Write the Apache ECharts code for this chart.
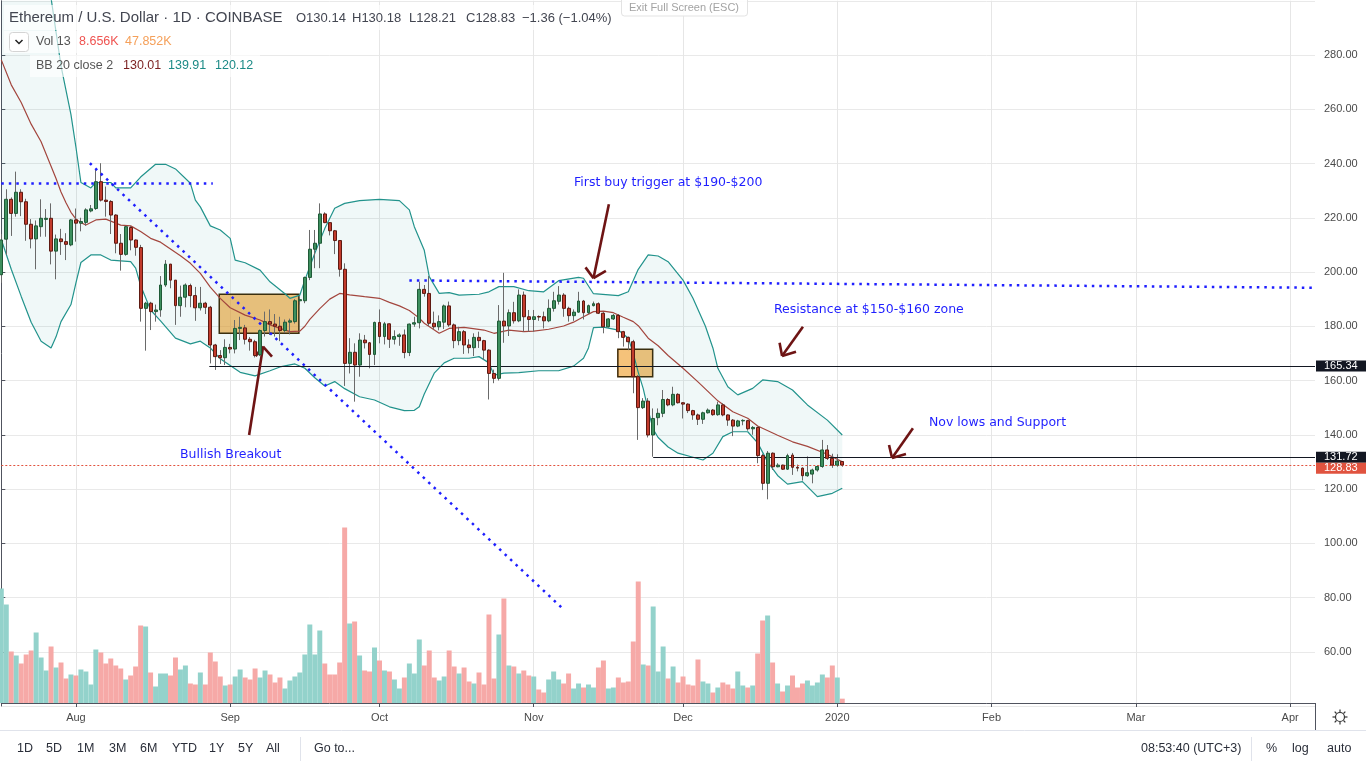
<!DOCTYPE html>
<html><head><meta charset="utf-8">
<script src="https://cdn.jsdelivr.net/npm/echarts@6/dist/echarts.min.js"></script>
<style>html,body{margin:0;padding:0;background:#fff}#c{width:1366px;height:768px}</style>
</head><body><div id="c"></div><script>
// ---------- data ----------
const startDate = '2019-07-17';
const numDays = 265; // category slots through early April 2020
const opens = [199,212.1,226.8,221.6,229.4,225.9,217.6,212.2,216.7,219.4,
219.8,207.7,212.2,211.2,210,219.2,218,218.3,222.5,223.4,
233.3,226.5,226,221,210.6,206.5,216.4,211.8,209,186.6,
188.5,185.4,186,195.2,202.9,197,187.6,190.7,195,191.3,
186.8,188.5,187,173.1,169.2,168.4,172.2,171.6,179.2,179.4,
175.2,174.3,169.5,178.4,181.7,180.8,180,178.4,181.5,181.7,
189.4,189.4,198,208.4,210.6,221.4,218.2,215.2,211.6,201,
166.3,170.4,165.7,174.9,173.9,169.6,181.4,176.2,180.9,175.2,
176.2,176.8,170.3,180.8,181.3,193.6,192.1,181.1,179.8,181.5,
187.5,180.5,174.7,178,173.1,172.1,175.9,174.7,171.2,162.6,
160.8,181.9,180.1,185,182,191.5,183.5,182.5,183.6,183.5,
182,186.6,189.2,191.5,186.6,183.9,185.2,189.3,185,187.6,
188.3,184.8,179.8,182.7,184,178,175.9,174.3,161.4,150,
152.4,139.9,146.3,147.9,153,151,154.9,151.8,151.3,148.9,
147.3,145.7,148.1,149.1,147.4,151,147.3,145.4,143.2,145.1,
145.2,142.2,142.7,132.3,122.1,133.2,128.2,128.8,127.3,132.5,
128,127.7,124.9,125.5,127,128.3,134.4,131.3,128.8,130.14];
const closes = [211.8,226.8,221.6,229.4,225.9,217.6,212.2,217,219.8,219.8,
207.7,212.2,211.2,210.2,219.2,218,218.6,222.9,223.3,233.3,
226.5,226,221,210.6,206.5,216.7,211.8,209.1,186.6,188.5,
185.4,186,195.2,202.9,197,187.6,190.7,195.2,191.3,186.8,
188.5,187,173.1,168.8,168.4,172.2,171.6,179.2,179.6,175.2,
174.3,169.2,178.4,181.7,180.8,180,178.4,181.5,182,189.4,
189.8,198,208.4,210.6,221.4,218.2,215.2,211.6,201,166.3,
170.4,165.7,174.9,173.9,169.6,181.4,176.2,180.9,175.2,176.2,
176.8,170.3,180.8,181.3,193.6,192.1,181.1,179.8,181.7,187.5,
180.5,174.7,178,173.1,172.1,175.9,174.7,171.2,162.6,160.8,
181.9,180.1,185,182,191.5,183.5,182.5,183.5,183.4,182,
186.6,189.4,191.5,186.6,183.9,185.2,189.3,185,187.6,188.3,
184.8,179.8,182.7,184,178,175.9,174.3,161.4,150,152.4,
139.9,146,147.9,153,151,154.9,151.8,151.3,148.9,147.3,
145.7,148.1,149.1,147.4,151,147.3,145.4,143.2,145.1,145.3,
142.2,142.7,132.3,122.1,133.2,128.2,128.8,127.3,132.3,128,
127.7,124.9,126,127,128.3,134.4,131.3,128.8,130.3,128.83];
const highs = [214,230.5,227.5,237,230.5,227,219.5,219,226.8,223.2,
225.3,213.8,215.9,214.3,219.5,223.4,220,223.5,224.7,237.6,
240.1,231.5,226.5,221.3,214,217,217,212,210,189,
189,188,198.5,204.4,203,197,195,195.8,195.7,194.5,
194.5,189,187.5,173.5,171.2,175.2,173.5,182.3,183.5,180.5,
176,175,178.8,185.4,186.2,184.5,183.5,182.5,182.8,190,
190.5,198.3,215.5,215.5,225.3,222,218.2,215.5,211.8,203.2,
175.6,173.7,177.4,176.8,174.2,181.7,186.2,181.6,181,178.5,
177.4,178.8,181,183.5,196.4,195.2,198.5,185.4,184,188,
189.1,181,179.8,178.6,175.2,177.4,178,175,171.5,164,
187.8,199.7,186.2,189,193.6,192.8,186,186,184,185.4,
189.9,192.7,194.8,192.2,187.2,186.2,192.7,189.7,188,189.1,
188.8,185.2,183,184.5,184.5,178.3,176.2,175,162,153.5,
153.5,149.7,149.7,156.5,153.5,157.7,155.3,152,151.6,149.2,
147.8,148.5,149.7,149.5,152.2,151.6,147.5,145.8,145.5,145.7,
145.5,143.2,143,133,134,133.5,129.5,129,133,133.3,
129,128,132,127.5,128.8,138.1,136.2,133,132.8,130.18];
const lows = [196,206.3,213.3,220.4,220.6,211.5,208.7,201,213,213,
202.8,197.3,206.3,204.4,209.5,211.2,215,217,222,222.9,
226,220.4,214,206.9,200.5,206,208,206,181.7,171,
178.6,181.7,183.5,194.5,194,180.5,183.5,187,187,182,
185.8,184.5,166.3,163.9,166.1,165.7,170,170,174.9,173.3,
171,168.5,169,176.2,176.8,176.2,174.5,177.5,177,181,
188,188.5,197,201.4,201.4,218,213.5,206.6,198.3,158,
162.6,152.2,161.4,171.8,164.5,165.7,173.7,173.3,172,173.3,
172.8,168.2,169,179.8,179.2,190.9,180.1,178.8,178.5,179,
179.8,171.9,173,169.8,170,169,172,167.6,153,159,
160,173.9,176.4,181,181.5,178,178,178,182,179.2,
181.5,185.4,188,183.5,181.7,182,185,182.5,184.5,187.3,
184.5,177.4,179.5,182.3,175.6,172.5,171.2,155.3,138.1,149.5,
139,131.9,143.5,146.5,150.5,150.5,151.5,146,148,145.5,
143.6,144,147.8,147,147,146.8,143.3,139.5,142.8,143.5,
141.5,140,129.5,119.6,116.2,127,128,127,127,125.2,
126.5,123.1,124.5,122.1,126.4,127.8,130.7,127.8,128.2,128.21];
const volumes = [229,197,103,95,79,97,105,141,91,65,
113,71,81,49,57,55,67,63,37,107,
101,79,89,75,69,47,55,73,155,153,
61,33,59,59,55,91,67,75,39,37,
61,37,101,83,53,35,37,53,67,51,
47,69,51,65,57,41,51,29,45,53,
61,97,157,97,145,79,57,57,81,351,
159,163,95,65,63,111,85,65,63,47,
29,51,79,59,127,75,105,51,45,53,
105,73,59,71,43,39,61,37,177,49,
137,209,75,73,59,65,55,53,27,21,
47,63,47,39,59,29,39,31,37,31,
71,85,29,31,51,41,43,123,243,77,
75,193,63,113,49,73,41,53,37,35,
87,43,39,21,31,41,37,29,63,35,
31,35,99,165,175,81,39,23,35,55,
31,39,45,35,41,57,51,75,51,8.656];
// Bollinger bands: [day index, value]
const bbUpper = [[0,360],[3,350],[6,335],[8,320],[10,301],[12,276],[14,258],[15,246],[16,233],[18,231],[19,233],[22,233],[23,231],[26,231],[28,235],[31,239.7],[33,239.7],[35,238],[38,232.7],[39,226.5],[40,224],[42,217],[44,215.5],[46,212.4],[47,204.4],[49,203.4],[52,200.7],[54,196.4],[57,192],[58,190.3],[60,191.5],[61,197],[63,206.9],[65,216],[67,223.5],[69,225.3],[72,226.3],[76,226.8],[80,226.3],[82,222.9],[83,216.7],[85,208],[86,198.3],[88,192.1],[90,192.4],[92,191.5],[96,191.8],[98,192.7],[100,194.6],[103,194.6],[106,193.1],[109,192.7],[112,196.8],[116,198],[117,197.7],[119,192],[124,191.3],[126,192.7],[128,201],[130,206.3],[132,205.9],[134,203.8],[137,197],[139,190.3],[141.5,180],[143,172],[144,164.5],[146,157.7],[148,154.7],[151,157.1],[153,160.2],[156,159.6],[159,156.5],[162,151],[166,145.4],[169,139.9]];
const bbBasis = [[0,278.2],[2,269],[4,262.5],[6,254.5],[8,248],[10,239],[11,234.5],[12,229.5],[13,225.5],[14,222],[15,219.5],[16,218.2],[17,217.3],[19,219.2],[21,219.5],[23,218],[24,217.3],[26,217],[28,214.9],[30,212.4],[32,211],[34,208.5],[36,206],[38,203.2],[40,199.5],[42,194.4],[44,190.3],[46,186.8],[49,184.1],[52,182.3],[54,180.5],[56,179.2],[58,178],[60,178.2],[61,180],[62,182.5],[64,186.5],[66,190],[68,192.1],[70,191.6],[73,190.9],[76,190.3],[78,188.8],[80,187.5],[82,185.8],[84,183],[85,181.1],[88,177.4],[90,179.2],[93,179.6],[97,178.6],[99,177.4],[102,178.6],[105,178],[107,178.2],[110,178.9],[113,180.1],[115,181.5],[117,183.5],[119,185.4],[121,185.6],[123,185],[125,183.3],[127,181.7],[128,180.2],[130,175.6],[132,172.8],[134,169.2],[137,164.5],[140,159.5],[144,152.5],[147,148.5],[150,146.1],[152,143.2],[156,139.8],[159,137.4],[162,135.7],[166,132.8],[169,130]];
const bbLower = [[0,212],[2,201],[4,191],[6,181.5],[8,174.5],[10,172],[11,176.1],[12,181.7],[14,188],[15,196],[16,203.5],[18,206.3],[20,206.3],[22,204.4],[26,203.8],[27,201.4],[28,195],[30,186],[32,182],[35,175.6],[38,173.5],[40,174.5],[42,172],[44,168],[46,165.5],[48,163],[51,161.7],[54,163.6],[56,165],[59,166.1],[61,164.5],[63,161],[65,158],[67,159.6],[69,157],[72,154],[75,152.8],[78,150.3],[81,148.9],[83,149],[84,150.3],[85,155],[87,162.7],[89,166.5],[91,168.2],[94,168.2],[96,168.8],[98,166.5],[99,162],[101,162.7],[104,162.9],[108,163.6],[112,163.6],[115,165.3],[117,168.2],[118,172],[119,179.5],[121,179.7],[124,178.6],[126,175.6],[127,170],[128,163],[129,157],[130,149.1],[131,142],[132,139],[134,135.5],[136,133.2],[139,131.7],[141,130.7],[143,133.2],[145,139.3],[147,141.1],[150,141.1],[152,137],[154,130],[156,125],[158,121.8],[161,122.7],[164,117.2],[167,118.4],[169,120.3]];
// drawings (day index, price)
const levelLines = [{from:41.8, value:165.34}, {from:131, value:131.72}];
const lastPrice = 128.83;
const blueDotLines = [[[0,232.9],[42.5,232.9]], [[17.8,240.1],[112.7,76.1]], [[82,196.9],[264,194.2]]];
const boxes = [[[43.8,191.8],[59.8,177.4]], [[123.9,171.5],[130.9,161.4]]];
const arrows = [ // tail, tip, wing1, wing2
  [[49.8,139.9],[52.6,172.5],[51.1,169],[54.4,168.8]],
  [[122.1,225],[119,197.7],[117.4,201.7],[121.5,200.4]],
  [[161.1,179.8],[156.9,169],[156.4,173.9],[159.7,170.6]],
  [[183.2,142.4],[179,131.4],[178.4,136.2],[181.8,132.9]]
];
const priceAxis = {min:40, max:300, step:20};
const monthNames = ['Jan','Feb','Mar','Apr','May','Jun','Jul','Aug','Sep','Oct','Nov','Dec'];

// ---------- build ----------
const cats = [];
const d0 = Date.parse(startDate + 'T00:00:00Z');
for (let i = 0; i < numDays; i++) cats.push(new Date(d0 + i * 86400000).toISOString().slice(0, 10));
const isMonthStart = (i, v) => v.slice(8, 10) === '01';
const wickData = opens.map((o, i) => [o, closes[i], lows[i], highs[i]]);
const bodyData = opens.map((o, i) => [o, closes[i], Math.min(o, closes[i]), Math.max(o, closes[i])]);
const UP = '#93d2cb', DN = '#f6a9a7';
const volData = volumes.map((v, i) => ({value: v, itemStyle: {color: closes[i] >= opens[i] ? UP : DN}}));

const FONT = 'Liberation Sans, Arial, sans-serif';
const DFONT = 'DejaVu Sans, Verdana, sans-serif';
const BLUE = '#1f1fff', ARROW = '#6e1414';
const markData = [];
blueDotLines.forEach(l => markData.push([{coord: l[0], lineStyle: {color: BLUE, width: 2.5, type: [2.5, 5]}}, {coord: l[1]}]));
levelLines.forEach(l => markData.push([{coord: [l.from, l.value], lineStyle: {color: '#131722', width: 1.2, type: 'solid'}}, {coord: [numDays - 1, l.value]}]));
markData.push([{coord: [0, lastPrice], lineStyle: {color: '#e2533f', width: 1, type: [2, 2]}}, {coord: [numDays - 1, lastPrice]}]);
arrows.forEach(a => {
  const st = {color: ARROW, width: 2.6, type: 'solid'};
  markData.push([{coord: a[0], lineStyle: st}, {coord: a[1]}]);
  markData.push([{coord: a[1], lineStyle: st}, {coord: a[2]}]);
  markData.push([{coord: a[1], lineStyle: st}, {coord: a[3]}]);
});

const chart = echarts.init(document.getElementById('c'), null, {renderer: 'canvas'});
const option = {
  animation: false,
  backgroundColor: '#fff',
  textStyle: {fontFamily: FONT},
  grid: [
    {left: 1.3, right: 51, top: 0.75, bottom: 62, outerBoundsMode: 'none', containLabel: false},
    {left: 1.3, right: 51, bottom: 65, height: 250, outerBoundsMode: 'none', containLabel: false}
  ],
  xAxis: [
    {type: 'category', gridIndex: 0, data: cats, boundaryGap: false,
     axisLine: {show: false}, axisTick: {show: false}, axisLabel: {show: false},
     splitLine: {show: true, interval: isMonthStart, lineStyle: {color: '#e6e6e6', width: 1}}},
    {type: 'value', gridIndex: 0, min: 0, max: numDays - 1, show: false, splitLine: {show: false}},
    {type: 'category', gridIndex: 1, data: cats, boundaryGap: false,
     axisLine: {show: true, lineStyle: {color: '#50535e', width: 1}},
     axisTick: {show: true, interval: isMonthStart, length: 4, lineStyle: {color: '#50535e'}},
     axisLabel: {interval: isMonthStart, color: '#4a4a4a', fontSize: 11, margin: 9, fontFamily: FONT,
       formatter: v => { const m = +v.slice(5, 7); return m === 1 ? v.slice(0, 4) : monthNames[m - 1]; }},
     splitLine: {show: false}}
  ],
  yAxis: [
    {type: 'value', gridIndex: 0, position: 'right', min: priceAxis.min, max: priceAxis.max, interval: priceAxis.step,
     axisLine: {show: true, lineStyle: {color: '#50535e'}},
     axisTick: {show: true, length: 4, lineStyle: {color: '#50535e'}},
     axisLabel: {color: '#4a4a4a', fontSize: 11, margin: 9, fontFamily: FONT, showMinLabel: false, showMaxLabel: false,
       formatter: v => v.toFixed(2)},
     splitLine: {show: true, lineStyle: {color: '#e9e9e9'}}},
    {type: 'value', gridIndex: 1, min: 0, max: 500, show: false, splitLine: {show: false}}
  ],
  series: [
    {type: 'custom', name: 'bbfill', xAxisIndex: 1, yAxisIndex: 0, z: 1, silent: true, data: [[0, 150]],
     renderItem: (params, api) => {
       const pts = [];
       bbUpper.forEach(p => pts.push(api.coord(p)));
       for (let i = bbLower.length - 1; i >= 0; i--) pts.push(api.coord(bbLower[i]));
       const cs = params.coordSys;
       return {type: 'polygon', shape: {points: pts}, style: {fill: 'rgba(33,150,150,0.065)'},
         clipPath: {type: 'rect', shape: {x: cs.x, y: cs.y, width: cs.width, height: cs.height}}};
     }},
    {type: 'bar', name: 'vol', xAxisIndex: 2, yAxisIndex: 1, data: volData, barCategoryGap: '0%', z: 2, silent: true},
    {type: 'line', name: 'upper', xAxisIndex: 1, yAxisIndex: 0, data: bbUpper, showSymbol: false, z: 3, silent: true,
     lineStyle: {color: '#22938c', width: 1.2}},
    {type: 'line', name: 'lower', xAxisIndex: 1, yAxisIndex: 0, data: bbLower, showSymbol: false, z: 3, silent: true,
     lineStyle: {color: '#22938c', width: 1.2}},
    {type: 'line', name: 'basis', xAxisIndex: 1, yAxisIndex: 0, data: bbBasis, showSymbol: false, z: 3, silent: true,
     lineStyle: {color: '#a3463e', width: 1.2}},
    {type: 'candlestick', name: 'wicks', xAxisIndex: 0, yAxisIndex: 0, data: wickData, barWidth: 1, z: 4, silent: true,
     itemStyle: {color: '#6a6a6a', color0: '#6a6a6a', borderColor: '#6a6a6a', borderColor0: '#6a6a6a', borderWidth: 1}},
    {type: 'candlestick', name: 'bodies', xAxisIndex: 0, yAxisIndex: 0, data: bodyData, barWidth: 3.4, z: 5, silent: true,
     itemStyle: {color: '#3d8f5e', color0: '#c23b2c', borderColor: '#1f5a37', borderColor0: '#5e1a12', borderWidth: 1}},
    {type: 'line', name: 'drawings', xAxisIndex: 1, yAxisIndex: 0, data: [], z: 6, silent: true,
     markArea: {silent: true, itemStyle: {color: 'rgba(238,153,33,0.6)', borderColor: '#3d2806', borderWidth: 1.5},
       data: boxes.map(b => [{coord: b[0]}, {coord: b[1]}])},
     markLine: {silent: true, symbol: ['none', 'none'], label: {show: false}, animation: false, data: markData}}
  ]
};
chart.setOption(option);

// ---------- text / chrome ----------
const T = (x, y, text, color, size, font) => ({type: 'text', x: x, y: y, silent: true, z: 100,
  style: {text: text, fill: color, font: (size || 13) + 'px ' + (font || FONT), textVerticalAlign: 'middle', textAlign: 'left'}});
const gfx = [];
// legend backgrounds
gfx.push({type: 'rect', shape: {x: 4, y: 5, width: 576, height: 25}, style: {fill: 'rgba(255,255,255,0.65)'}, silent: true, z: 99});
gfx.push({type: 'rect', shape: {x: 4, y: 31, width: 180, height: 22}, style: {fill: 'rgba(255,255,255,0.65)'}, silent: true, z: 99});
gfx.push({type: 'rect', shape: {x: 30, y: 55, width: 230, height: 22}, style: {fill: 'rgba(255,255,255,0.65)'}, silent: true, z: 99});
gfx.push(T(9, 18, 'Ethereum / U.S. Dollar \u00b7 1D \u00b7 COINBASE', '#434651', 15));
gfx.push(T(296, 18, 'O130.14', '#434651', 13));
gfx.push(T(352, 18, 'H130.18', '#434651', 13));
gfx.push(T(409, 18, 'L128.21', '#434651', 13));
gfx.push(T(466, 18, 'C128.83', '#434651', 13));
gfx.push(T(522, 18, '\u22121.36 (\u22121.04%)', '#434651', 13));
gfx.push({type: 'rect', shape: {x: 9.5, y: 32.5, width: 19, height: 19, r: 3}, style: {fill: '#fff', stroke: '#d4d4d4', lineWidth: 1}, z: 100, silent: true});
gfx.push({type: 'polyline', shape: {points: [[15.5, 40], [19, 43.5], [22.5, 40]]}, style: {stroke: '#222', lineWidth: 1.5, fill: null}, z: 101, silent: true});
gfx.push(T(36, 42, 'Vol 13', '#555', 12.5));
gfx.push(T(79, 42, '8.656K', '#ef5350', 12.5));
gfx.push(T(125, 42, '47.852K', '#f5a05a', 12.5));
gfx.push(T(36, 66, 'BB 20 close 2', '#555', 12.5));
gfx.push(T(123, 66, '130.01', '#7a1f1f', 12.5));
gfx.push(T(168, 66, '139.91', '#1b8a86', 12.5));
gfx.push(T(215, 66, '120.12', '#1b8a86', 12.5));
// exit full screen
gfx.push({type: 'rect', shape: {x: 621.5, y: -4, width: 126, height: 20, r: 3}, style: {fill: 'rgba(255,255,255,0.9)', stroke: '#e3e3e3', lineWidth: 1}, z: 100, silent: true});
gfx.push(T(629, 8, 'Exit Full Screen (ESC)', '#a3a3a3', 11));
// annotations
gfx.push(T(574, 183, 'First buy trigger at $190-$200', BLUE, 12.5, DFONT));
gfx.push(T(774, 310, 'Resistance at $150-$160 zone', BLUE, 12.5, DFONT));
gfx.push(T(929, 423, 'Nov lows and Support', BLUE, 12.5, DFONT));
gfx.push(T(180, 455, 'Bullish Breakout', BLUE, 12.5, DFONT));
// bottom chrome
gfx.push({type: 'line', shape: {x1: 1315.5, y1: 703, x2: 1315.5, y2: 730}, style: {stroke: '#50535e', lineWidth: 1}, z: 100, silent: true});
gfx.push({type: 'line', shape: {x1: 0, y1: 730.5, x2: 1366, y2: 730.5}, style: {stroke: '#e0e3eb', lineWidth: 1}, z: 100, silent: true});
gfx.push({type: 'circle', shape: {cx: 1340, cy: 717, r: 4.5}, style: {fill: 'none', stroke: '#333', lineWidth: 1.2}, z: 100, silent: true});
for (let k = 0; k < 8; k++) {
  const a = k * Math.PI / 4;
  gfx.push({type: 'line', shape: {x1: 1340 + 5 * Math.cos(a), y1: 717 + 5 * Math.sin(a), x2: 1340 + 7.5 * Math.cos(a), y2: 717 + 7.5 * Math.sin(a)}, style: {stroke: '#333', lineWidth: 1.2}, z: 100, silent: true});
}
const tb = [['1D', 17], ['5D', 46], ['1M', 77], ['3M', 109], ['6M', 140], ['YTD', 172], ['1Y', 209], ['5Y', 238], ['All', 266], ['Go to...', 314],
  ['08:53:40 (UTC+3)', 1141], ['%', 1266], ['log', 1292], ['auto', 1327]];
tb.forEach(t => gfx.push(T(t[1], 749, t[0], '#2a2e39', 12.5)));
gfx.push({type: 'line', shape: {x1: 300.5, y1: 737, x2: 300.5, y2: 761}, style: {stroke: '#e0e3eb', lineWidth: 1}, z: 100, silent: true});
gfx.push({type: 'line', shape: {x1: 1251.5, y1: 737, x2: 1251.5, y2: 761}, style: {stroke: '#e0e3eb', lineWidth: 1}, z: 100, silent: true});
// axis value tags
const tags = [[levelLines[0].value, '#131722'], [levelLines[1].value, '#131722'], [lastPrice, '#e0533f']];
let prevBottom = -100;
tags.forEach(t => {
  let cy = chart.convertToPixel({yAxisIndex: 0}, t[0]);
  if (cy - 5.5 < prevBottom) cy = prevBottom + 5.5;
  prevBottom = cy + 5.5;
  gfx.push({type: 'rect', shape: {x: 1316, y: cy - 5.5, width: 50, height: 11}, style: {fill: t[1]}, z: 100, silent: true});
  gfx.push(T(1324, cy, t[0].toFixed(2), '#fff', 11));
});
chart.setOption({graphic: {elements: gfx}});
</script></body></html>
